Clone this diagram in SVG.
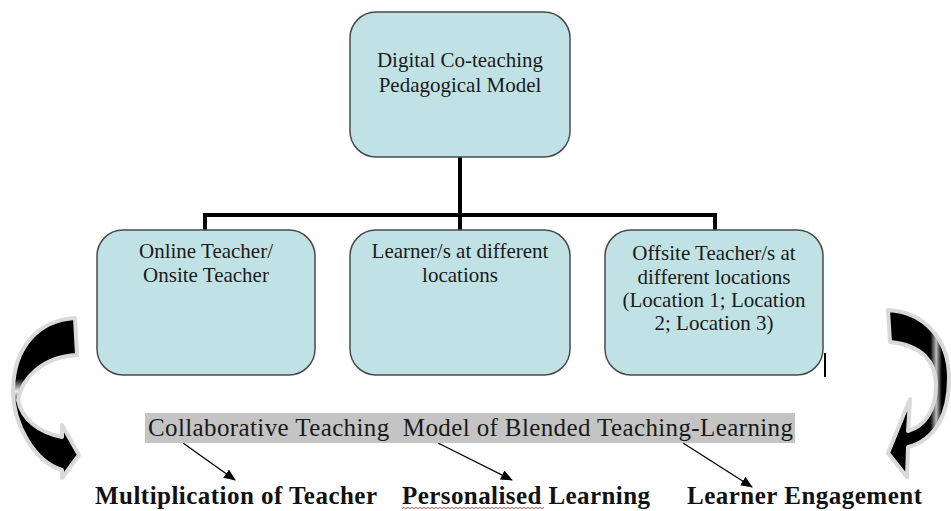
<svg xmlns="http://www.w3.org/2000/svg" width="951" height="511" viewBox="0 0 951 511">
<style>
.box{fill:#c1e2e5;stroke:#4a4a4a;stroke-width:1.5}
.bt{font-size:21px;fill:#1a1a1a;text-anchor:middle}
.tree{fill:none;stroke:#000;stroke-width:4}
.ln{fill:none;stroke:#000;stroke-width:1.3}
.bold{font-size:25px;font-weight:bold;fill:#111}
.curve{stroke:#d9d9d9;stroke-width:4;stroke-linejoin:round}
</style>
<defs>
<marker id="ah" viewBox="0 0 12 10" refX="11" refY="5" markerWidth="12" markerHeight="10" markerUnits="userSpaceOnUse" orient="auto">
<path d="M0,0 L12,5 L0,10 Z" fill="#000"/>
</marker>
<linearGradient id="gl" gradientUnits="userSpaceOnUse" x1="0" y1="318" x2="0" y2="478">
<stop offset="0" stop-color="#000"/>
<stop offset="0.38" stop-color="#000"/>
<stop offset="0.46" stop-color="#f2f2f2"/>
<stop offset="0.53" stop-color="#000"/>
<stop offset="1" stop-color="#000"/>
</linearGradient>
<linearGradient id="gr" gradientUnits="userSpaceOnUse" x1="905" y1="0" x2="951" y2="0">
<stop offset="0" stop-color="#000"/>
<stop offset="0.55" stop-color="#000"/>
<stop offset="0.68" stop-color="#bdbdbd"/>
<stop offset="0.8" stop-color="#000"/>
<stop offset="1" stop-color="#000"/>
</linearGradient>
</defs>

<g id="connectors">
<path class="tree" d="M460,157 V215 M205,230 V215 H715 V230 M460,215 V230"/>
<line class="ln" x1="183" y1="443" x2="235" y2="480" marker-end="url(#ah)"/>
<line class="ln" x1="438" y1="443" x2="512" y2="480" marker-end="url(#ah)"/>
<line class="ln" x1="683" y1="443" x2="752" y2="487" marker-end="url(#ah)"/>
</g>

<g font-family="Liberation Serif, Times New Roman, serif">
<g id="node-top">
<rect class="box" x="350" y="12" width="220" height="145" rx="26"/>
<text class="bt" x="460" y="67">Digital Co-teaching</text>
<text class="bt" x="460" y="92">Pedagogical Model</text>
</g>

<g id="node-online">
<rect class="box" x="97" y="230" width="218" height="145" rx="26"/>
<text class="bt" x="206" y="258">Online Teacher/</text>
<text class="bt" x="206" y="282">Onsite Teacher</text>
</g>

<g id="node-learner">
<rect class="box" x="350" y="230" width="220" height="145" rx="26"/>
<text class="bt" x="460" y="258">Learner/s at different</text>
<text class="bt" x="460" y="282">locations</text>
</g>

<g id="node-offsite">
<rect class="box" x="605" y="230" width="218" height="145" rx="26"/>
<text class="bt" x="714" y="260">Offsite Teacher/s at</text>
<text class="bt" x="714" y="284">different locations</text>
<text class="bt" x="714" y="307">(Location 1; Location</text>
<text class="bt" x="714" y="330">2; Location 3)</text>
</g>

<g id="caption">
<rect x="145" y="413" width="650" height="30" fill="#c4c4c4"/>
<text x="148" y="436" font-size="25" fill="#1a1a1a" textLength="645" lengthAdjust="spacing" xml:space="preserve">Collaborative Teaching  Model of Blended Teaching-Learning</text>
</g>

<g id="outcomes">
<text class="bold" x="95" y="504" textLength="282" lengthAdjust="spacing">Multiplication of Teacher</text>
<text class="bold" x="402" y="504" textLength="248" lengthAdjust="spacing">Personalised Learning</text>
<text class="bold" x="687" y="504" textLength="235" lengthAdjust="spacing">Learner Engagement</text>
<path d="M402,509 l2,-2 l2,2 l2,-2 l2,2 l2,-2 l2,2 l2,-2 l2,2 l2,-2 l2,2 l2,-2 l2,2 l2,-2 l2,2 l2,-2 l2,2 l2,-2 l2,2 l2,-2 l2,2 l2,-2 l2,2 l2,-2 l2,2 l2,-2 l2,2 l2,-2 l2,2 l2,-2 l2,2 l2,-2 l2,2 l2,-2 l2,2 l2,-2 l2,2 l2,-2 l2,2 l2,-2 l2,2 l2,-2 l2,2 l2,-2 l2,2 l2,-2 l2,2 l2,-2 l2,2 l2,-2 l2,2 l2,-2 l2,2 l2,-2 l2,2 l2,-2 l2,2 l2,-2 l2,2 l2,-2 l2,2 l2,-2 l2,2 l2,-2 l2,2 l2,-2 l2,2 l2,-2 l2,2 l2,-2 l2,2 l2,-2" fill="none" stroke="#e03030" stroke-width="0.8"/>
</g>
</g>
<line x1="825" y1="353" x2="825" y2="377" stroke="#000" stroke-width="2"/>

<g id="curved-arrow-left">
<path class="curve" fill="url(#gl)" d="M75,318 C40,320 14,345 13,390 C13,425 35,462 62,470 L62,478 L79,455 L62,425 L62,437 C40,433 22,420 18,400 C22,378 42,357 77,355 Z"/>
</g>
<g id="curved-arrow-right">
<path class="curve" fill="url(#gr)" d="M888,310 C925,312 949,340 949,378 C949,415 935,440 908,447 L907,477 L888,453 L910,399 L908,431 C926,426 936,408 936,385 C936,362 922,345 890,342 Z"/>
</g>
</svg>
